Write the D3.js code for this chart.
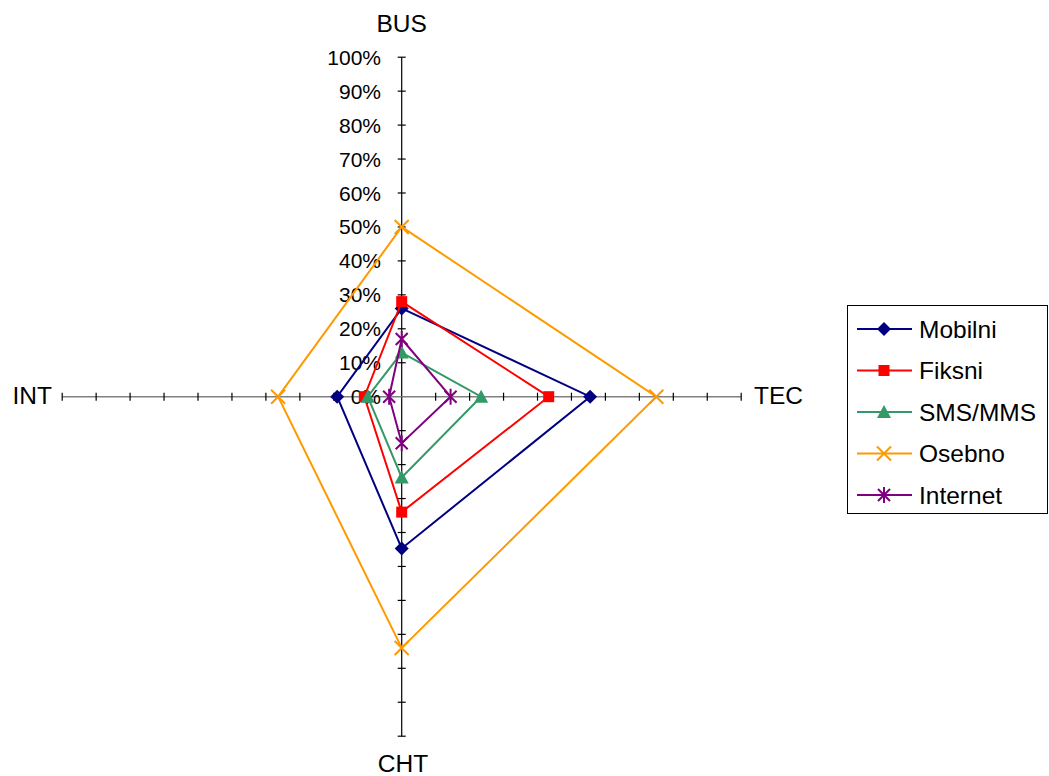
<!DOCTYPE html>
<html>
<head>
<meta charset="utf-8">
<script src="https://cdnjs.cloudflare.com/ajax/libs/d3/7.8.5/d3.min.js"></script>
<style>
  html, body { margin: 0; padding: 0; background: #fff; }
  svg { display: block; font-family: "Liberation Sans", Arial, sans-serif; }
</style>
</head>
<body>
<svg id="chart" width="1049" height="776"></svg>
<script>
const categories = ["BUS", "TEC", "CHT", "INT"];
const seriesNames = ["Mobilni", "Fiksni", "SMS/MMS", "Osebno", "Internet"];
const mobilni = [26, 55.5, 44.7, 19];
const fiksni = [28, 43.3, 34, 11];
const smsMms = [13, 23.4, 23.8, 10];
const osebno = [50, 75, 74, 36.4];
const internet = [17, 14.4, 13.7, 3.7];
const tickValues = [0, 10, 20, 30, 40, 50, 60, 70, 80, 90, 100];
const tickLabels = ["0%", "10%", "20%", "30%", "40%", "50%", "60%", "70%", "80%", "90%", "100%"];

const seriesValues = [mobilni, fiksni, smsMms, osebno, internet];
const colors = ["#000080", "#FF0000", "#339966", "#FF9900", "#800080"];
const markers = ["diamond", "square", "triangle", "x", "star"];

const svg = d3.select("#chart");
const cx = 401.7, cy = 396.7, R = 339.5;
const r = d3.scaleLinear().domain([0, 100]).range([0, R]);
const angle = d3.scalePoint().domain(categories).range([0, 270]);
const pt = (cat, v) => {
  const a = angle(cat) * Math.PI / 180;
  return [cx + r(v) * Math.sin(a), cy - r(v) * Math.cos(a)];
};

// spokes
categories.forEach(c => {
  const [x2, y2] = pt(c, 100);
  const horiz = (c === "TEC" || c === "INT");
  svg.append("line").attr("x1", cx).attr("y1", cy).attr("x2", x2).attr("y2", y2)
    .attr("stroke", horiz ? "#808080" : "#000").attr("stroke-width", horiz ? 1.5 : 1.2);
  tickValues.slice(1).forEach(t => {
    const [tx, ty] = pt(c, t);
    const a = angle(c) * Math.PI / 180;
    const px = Math.cos(a) * 4, py = Math.sin(a) * 4;
    svg.append("line").attr("x1", tx - px).attr("y1", ty - py).attr("x2", tx + px).attr("y2", ty + py)
      .attr("stroke", "#000").attr("stroke-width", 1.2);
  });
});

// tick labels on BUS axis
tickValues.forEach((t, i) => {
  const [, ty] = pt("BUS", t);
  svg.append("text").attr("x", 381).attr("y", ty + 7.5).attr("text-anchor", "end")
    .attr("font-size", 21).attr("fill", "#000").text(tickLabels[i]);
});

// category labels
const catPos = {
  BUS: { x: cx, y: 32, anchor: "middle" },
  TEC: { x: 754, y: 404, anchor: "start" },
  CHT: { x: 403, y: 772, anchor: "middle" },
  INT: { x: 52, y: 404, anchor: "end" }
};
categories.forEach(c => {
  const p = catPos[c];
  svg.append("text").attr("x", p.x).attr("y", p.y).attr("text-anchor", p.anchor)
    .attr("font-size", 24.5).attr("fill", "#000").text(c);
});

function drawMarker(g, type, x, y, color) {
  if (type === "diamond") {
    g.append("path").attr("d", `M${x},${y - 7}L${x + 7},${y}L${x},${y + 7}L${x - 7},${y}Z`).attr("fill", color);
  } else if (type === "square") {
    g.append("rect").attr("x", x - 5.5).attr("y", y - 5.5).attr("width", 11).attr("height", 11).attr("fill", color);
  } else if (type === "triangle") {
    g.append("path").attr("d", `M${x},${y - 7}L${x + 7},${y + 6}L${x - 7},${y + 6}Z`).attr("fill", color);
  } else if (type === "x") {
    g.append("path").attr("d", `M${x - 7},${y - 7}L${x + 7},${y + 7}M${x - 7},${y + 7}L${x + 7},${y - 7}`)
      .attr("stroke", color).attr("stroke-width", 2);
  } else if (type === "star") {
    g.append("path").attr("d", `M${x - 6},${y - 6}L${x + 6},${y + 6}M${x - 6},${y + 6}L${x + 6},${y - 6}M${x},${y - 8}L${x},${y + 8}`)
      .attr("stroke", color).attr("stroke-width", 2);
  }
}

// series
const line = d3.line().curve(d3.curveLinearClosed);
seriesValues.forEach((vals, si) => {
  const pts = categories.map((c, i) => pt(c, vals[i]));
  const g = svg.append("g");
  g.append("path").attr("d", line(pts)).attr("fill", "none")
    .attr("stroke", colors[si]).attr("stroke-width", 2);
  pts.forEach(p => drawMarker(g, markers[si], p[0], p[1], colors[si]));
});

// legend
const lg = svg.append("g");
lg.append("rect").attr("x", 847.5).attr("y", 305.5).attr("width", 200).attr("height", 208)
  .attr("fill", "#fff").attr("stroke", "#000").attr("stroke-width", 1);
seriesNames.forEach((name, i) => {
  const y = 329 + i * 41.5;
  lg.append("line").attr("x1", 857).attr("x2", 912).attr("y1", y).attr("y2", y)
    .attr("stroke", colors[i]).attr("stroke-width", 2);
  drawMarker(lg, markers[i], 884, y, colors[i]);
  lg.append("text").attr("x", 919).attr("y", y + 8.5).attr("font-size", 24.5).attr("fill", "#000").text(name);
});
</script>
</body>
</html>
